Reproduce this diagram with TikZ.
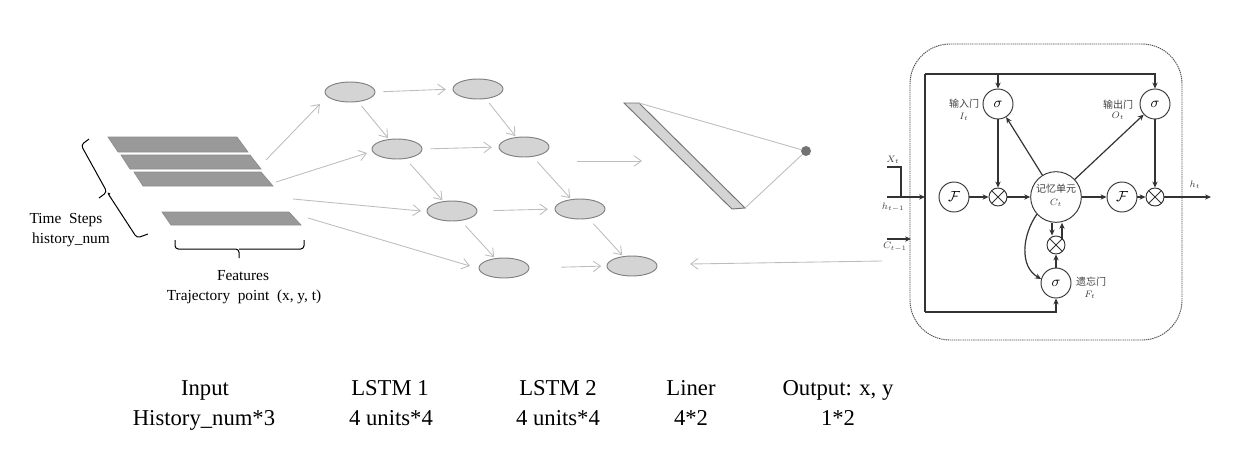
\documentclass[tikz,border=0pt]{standalone}
\usepackage{fontspec}
\setmainfont{Liberation Serif}
\newfontfamily\cjk{Noto Sans CJK SC}
\usetikzlibrary{arrows.meta,shapes.geometric}
\tikzset{
  lite/.style={draw=black!26,line width=0.65pt,-{Straight Barb[length=5.5pt,width=8pt]}},
  liteline/.style={draw=black!26,line width=0.65pt},
  ell/.style={ellipse,draw=black!50,fill=black!17,line width=0.7pt,minimum width=37.5pt,minimum height=15pt,inner sep=0pt},
  bar/.style={fill=black!40,draw=black!45,line width=0.5pt},
  dark/.style={draw=black!80,line width=0.9pt,-{Stealth[length=4.5pt,width=4pt]}},
  darkline/.style={draw=black!80,line width=0.9pt},
  gate/.style={circle,draw=black!80,line width=0.7pt,minimum size=22.5pt,inner sep=0pt,font=\fontsize{11}{12}\selectfont},
  cell/.style={circle,draw=black!80,line width=0.7pt,minimum size=38pt,inner sep=0pt},
  times/.style={circle,draw=black!80,line width=0.7pt,minimum size=13.5pt,inner sep=0pt,
    path picture={\draw[black!80,line width=0.6pt]
      (path picture bounding box.south west)--(path picture bounding box.north east)
      (path picture bounding box.north west)--(path picture bounding box.south east);}},
  big/.style={font=\fontsize{17}{20}\selectfont,inner sep=0pt,anchor=base},
  mid/.style={font=\fontsize{11.5}{14}\selectfont,inner sep=0pt,anchor=base},
  tiny/.style={font=\fontsize{7.5}{8}\selectfont,inner sep=0pt,text=black!75},
  brace/.style={draw=black,line width=0.75pt,rounded corners=2.5pt},
}
\begin{document}
\begin{tikzpicture}[x=0.75pt,y=-0.75pt]
\useasboundingbox (0,0) rectangle (1247,454);
% input bars
\draw[bar] (108,137)--(237,137)--(248,152)--(118,152)--cycle;
\draw[bar] (121,155)--(250,155)--(261,169)--(130,169)--cycle;
\draw[bar] (134,172)--(261,172)--(273,186)--(143,186)--cycle;
\draw[bar] (162,212)--(289,212)--(301,225)--(171,225)--cycle;
\coordinate (b1) at (266,160);
\coordinate (b2) at (276,182);
\coordinate (b3) at (293,199);
\coordinate (b4) at (308,218);
\coordinate (a1) at (320,104);
\coordinate (a2) at (367,153);
\coordinate (a3) at (421,211);
\coordinate (a4) at (470,266);
% braces
\draw[brace] (89,139)--(81,145)--(107,192)--(99,198);
\draw[brace] (110,194)--(107,192)--(137,238)--(148,234);
\draw[brace] (175,240)--(175,249)--(239,249)--(239,258);
\draw[brace] (239,249)--(304,249)--(304,240);
% ellipses
\node[ell] (e1) at (350,92) {};
\node[ell] (e2) at (478,89) {};
\node[ell] (e3) at (397,149) {};
\node[ell] (e4) at (524,147) {};
\node[ell] (e5) at (452,211) {};
\node[ell] (e6) at (580,209) {};
\node[ell] (e7) at (504,268) {};
\node[ell] (e8) at (632,266) {};
% light connectors
\draw[lite] (b1)--(a1);
\draw[lite] (b2)--(a2);
\draw[lite] (b3)--(a3);
\draw[lite] (b4)--(a4);
\draw[lite,shorten <=6pt,shorten >=5pt] (e1.east)--(e2.west);
\draw[lite,shorten <=6pt,shorten >=5pt] (e3.east)--(e4.west);
\draw[lite,shorten <=12pt,shorten >=5pt] (e5.east)--(e6.west);
\draw[lite,shorten <=24pt,shorten >=4pt] (e7.east)--(e8.west);
\draw[lite,shorten <=4pt,shorten >=1pt] (e1)--(e3);
\draw[lite,shorten <=4pt,shorten >=1pt] (e2)--(e4);
\draw[lite,shorten <=5pt,shorten >=1pt] (e3)--(e5);
\draw[lite,shorten <=5pt,shorten >=1pt] (e4)--(e6);
\draw[lite,shorten <=5pt,shorten >=1pt] (e5)--(e7);
\draw[lite,shorten <=5pt,shorten >=1pt] (e6)--(e8);
% linear layer
\coordinate (hs) at (577,161);
\coordinate (he) at (642,161);
\draw[lite] (hs)--(he);
\coordinate (lt) at (639,103);
\coordinate (lb) at (745,208);
\draw[fill=black!17,draw=black!55,line width=0.7pt] (624,103)--(lt)--(lb)--(732,209)--cycle;
\node[circle,fill=black!55,minimum size=7.5pt,inner sep=0pt] (out) at (806,151) {};
\draw[liteline] (lt)--(out);
\draw[liteline] (lb)--(out);
% LSTM cell
\node[draw=black!70,dash pattern=on 1pt off 0.6pt,line width=0.7pt,rounded corners=30pt,minimum width=204pt,minimum height=222pt,inner sep=0pt] (frame) at (1046,192) {};
\coordinate (bigs) at (882,261);
\coordinate (bige) at (690,264);
\draw[lite] (bigs)--(bige);
\node[cell] (C) at (1056,197) {};
\node[gate] (sI) at (998,104) {$\sigma$};
\node[gate] (sO) at (1155,104) {$\sigma$};
\node[gate] (sF) at (1056,283) {$\sigma$};
\node[gate] (F1) at (954,197) {$\mathcal{F}$};
\node[gate] (F2) at (1122,197) {$\mathcal{F}$};
\node[times] (t1) at (998,197) {};
\node[times] (t2) at (1155,197) {};
\node[times] (t3) at (1056,245) {};
\coordinate (tl) at (925,74);
\coordinate (bl) at (925,312);
\coordinate (xs) at (887,167);
\coordinate (xc) at (901,167);
\coordinate (hin) at (887,197);
\coordinate (hj) at (901,197);
\coordinate (hend) at (925,197);
\coordinate (cin) at (887,239);
\coordinate (cend) at (911,239);
\coordinate (hout) at (1211,197);
\draw[darkline] (xs)--(xc)--(hj);
\draw[dark] (hin)--(hend);
\draw[dark] (cin)--(cend);
\draw[darkline] (tl)--(bl);
\draw[dark] (tl)--(tl-|sO)--(sO);
\draw[dark] (sI|-tl)--(sI);
\draw[dark] (bl)--(bl-|sF)--(sF);
\draw[dark] (F1)--(t1);
\draw[dark] (t1)--(C);
\draw[dark] (C)--(F2);
\draw[dark] (F2)--(t2);
\draw[dark] (t2)--(hout);
\draw[dark] (sI)--(t1);
\draw[dark] (sO)--(t2);
\draw[dark] (C)--(sI);
\draw[dark] (C)--(sO);
\draw[dark] (sF)--(t3);
\draw[dark] ([xshift=-3pt]C.south)--([xshift=-3pt]t3.north);
\draw[dark] ([xshift=4.5pt,yshift=-3pt]t3.north)--([xshift=4.5pt]C.south);
\draw[dark] (C.222) to[out=235,in=150] (sF.165);
% tiny labels
\node[tiny] at (1056,189) {\cjk 记忆单元};
\node[tiny] at (1056,203) {$C_t$};
\node[tiny] at (964,104) {\cjk 输入门};
\node[tiny] at (964,117) {$I_t$};
\node[tiny] at (1118,105) {\cjk 输出门};
\node[tiny] at (1118,116) {$O_t$};
\node[tiny] at (1091,282) {\cjk 遗忘门};
\node[tiny] at (1090,295) {$F_t$};
\node[tiny] at (893,160) {$X_t$};
\node[tiny] at (893,207) {$h_{t-1}$};
\node[tiny] at (895,247) {$C_{t-1}$};
\node[tiny] at (1195,185) {$h_t$};
% text
\node[mid] at (66,223) {Time~~Steps};
\node[mid] at (71,243) {history\_num};
\node[mid] at (243,280) {Features};
\node[mid] at (244,300) {Trajectory~~point~~(x,~y,~t)};
\node[big] at (205,395) {Input};
\node[big] at (204,425) {History\_num*3};
\node[big] at (390,395) {LSTM 1};
\node[big] at (391,425) {4 units*4};
\node[big] at (558,395) {LSTM 2};
\node[big] at (558,425) {4 units*4};
\node[big] at (691,395) {Liner};
\node[big] at (691,425) {4*2};
\node[big] at (838,395) {Output: x, y};
\node[big] at (838,425) {1*2};
\end{tikzpicture}
\end{document}
